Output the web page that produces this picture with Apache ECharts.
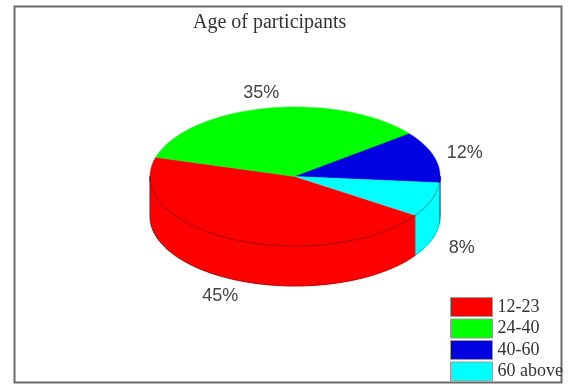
<!DOCTYPE html>
<html>
<head>
<meta charset="utf-8">
<script src="https://cdn.jsdelivr.net/npm/echarts@6/dist/echarts.min.js"></script>
<style>
  html, body { margin: 0; padding: 0; background: #ffffff; }
  #chart { width: 571px; height: 385px; }
</style>
</head>
<body>
<div id="chart"></div>
<script>
// Age groups and their share of participants (percent)
const categories = ['12-23', '24-40', '40-60', '60 above'];
const values = [45, 35, 12, 8];
const colors = ['#ff0000', '#00ff00', '#0000e0', '#00ffff'];

// Layout of the tilted disc (pixels / degrees)
const CX = 295, CY = 176.5;   // centre of the top ellipse
const RX = 145, RY = 69.5;    // radii of the top ellipse
const DEPTH = 40;             // thickness of the disc
const START = -34;            // angle where the first slice begins (clockwise)
const LABEL_K = 1.22;         // label distance relative to the radii
const LABEL_FRONT_DROP = 3;   // extra drop for labels below the rim

const total = values.reduce((a, b) => a + b, 0);

function pt(deg, dy) {
  const r = deg * Math.PI / 180;
  return [CX + RX * Math.cos(r), CY - RY * Math.sin(r) + dy];
}

function arc(from, to, dy) {
  const pts = [];
  const n = Math.max(2, Math.ceil(Math.abs(to - from)));
  for (let k = 0; k <= n; k++) pts.push(pt(from + (to - from) * k / n, dy));
  return pts;
}

function darker(hex, f) {
  const c = echarts.color.parse(hex);
  return 'rgb(' + [0, 1, 2].map(j => Math.round(c[j] * f)).join(',') + ')';
}

function renderSlice(params, api) {
  const i = params.seriesIndex;
  let before = 0;
  for (let k = 0; k < i; k++) before += values[k];
  const v = api.value(0);
  const a0 = START - before / total * 360;
  const a1 = a0 - v / total * 360;
  const fill = colors[i];
  const children = [];

  // Visible wall: the part of the slice's rim that faces the viewer
  for (let k = -2; k <= 1; k++) {
    const s = Math.max(a1, 180 + 360 * k);
    const e = Math.min(a0, 360 + 360 * k);
    if (s < e) {
      const pts = arc(s, e, 0).concat(arc(e, s, DEPTH));
      children.push({
        type: 'polygon', z2: 1,
        shape: { points: pts },
        style: { fill: fill, stroke: darker(fill, 0.72), lineWidth: 1 }
      });
      // edge between the top face and the wall
      children.push({
        type: 'polyline', z2: 6,
        shape: { points: arc(s, e, 0) },
        style: { fill: null, stroke: darker(fill, 0.72), lineWidth: 1.2 }
      });
    }
  }

  // Top face of the slice
  children.push({
    type: 'polygon', z2: 5,
    shape: { points: [[CX, CY]].concat(arc(a0, a1, 0)) },
    style: { fill: fill, stroke: fill, lineWidth: 0.5 }
  });

  // Percentage label outside the slice
  const mid = (a0 + a1) / 2 * Math.PI / 180;
  const s = Math.sin(mid), c = Math.cos(mid);
  children.push({
    type: 'text', z2: 10,
    style: {
      text: Math.round(v / total * 100) + '%',
      x: CX + LABEL_K * RX * c,
      y: CY - LABEL_K * RY * s + (s < 0 ? DEPTH + LABEL_FRONT_DROP : 0),
      align: 'center', verticalAlign: 'middle',
      font: '18px "Liberation Sans", Arial, sans-serif',
      fill: '#444444'
    }
  });

  return { type: 'group', children: children };
}

const chart = echarts.init(document.getElementById('chart'), null, { renderer: 'canvas' });

chart.setOption({
  animation: false,
  backgroundColor: '#ffffff',
  title: {
    text: 'Age of participants',
    left: 193, top: 13, padding: 0,
    textStyle: {
      fontFamily: '"Liberation Serif", "Times New Roman", serif',
      fontSize: 20, fontWeight: 'normal', color: '#333333'
    }
  },
  legend: {
    orient: 'vertical',
    left: 450, top: 297, padding: 0,
    itemWidth: 42, itemHeight: 19, itemGap: 1.5,
    icon: 'rect', selectedMode: false,
    data: categories,
    itemStyle: { borderColor: '#9a9a9a', borderWidth: 1 },
    textStyle: {
      fontFamily: '"Liberation Serif", "Times New Roman", serif',
      fontSize: 18, color: '#333333'
    }
  },
  graphic: [{
    type: 'rect', silent: true, z: -1,
    shape: { x: 14.5, y: 6.5, width: 547, height: 376 },
    style: { fill: 'none', stroke: '#6b6b6b', lineWidth: 2 }
  }],
  series: categories.map((name, i) => ({
    type: 'custom',
    name: name,
    coordinateSystem: 'none',
    itemStyle: { color: colors[i] },
    data: [[values[i]]],
    renderItem: renderSlice
  }))
});
</script>
</body>
</html>
